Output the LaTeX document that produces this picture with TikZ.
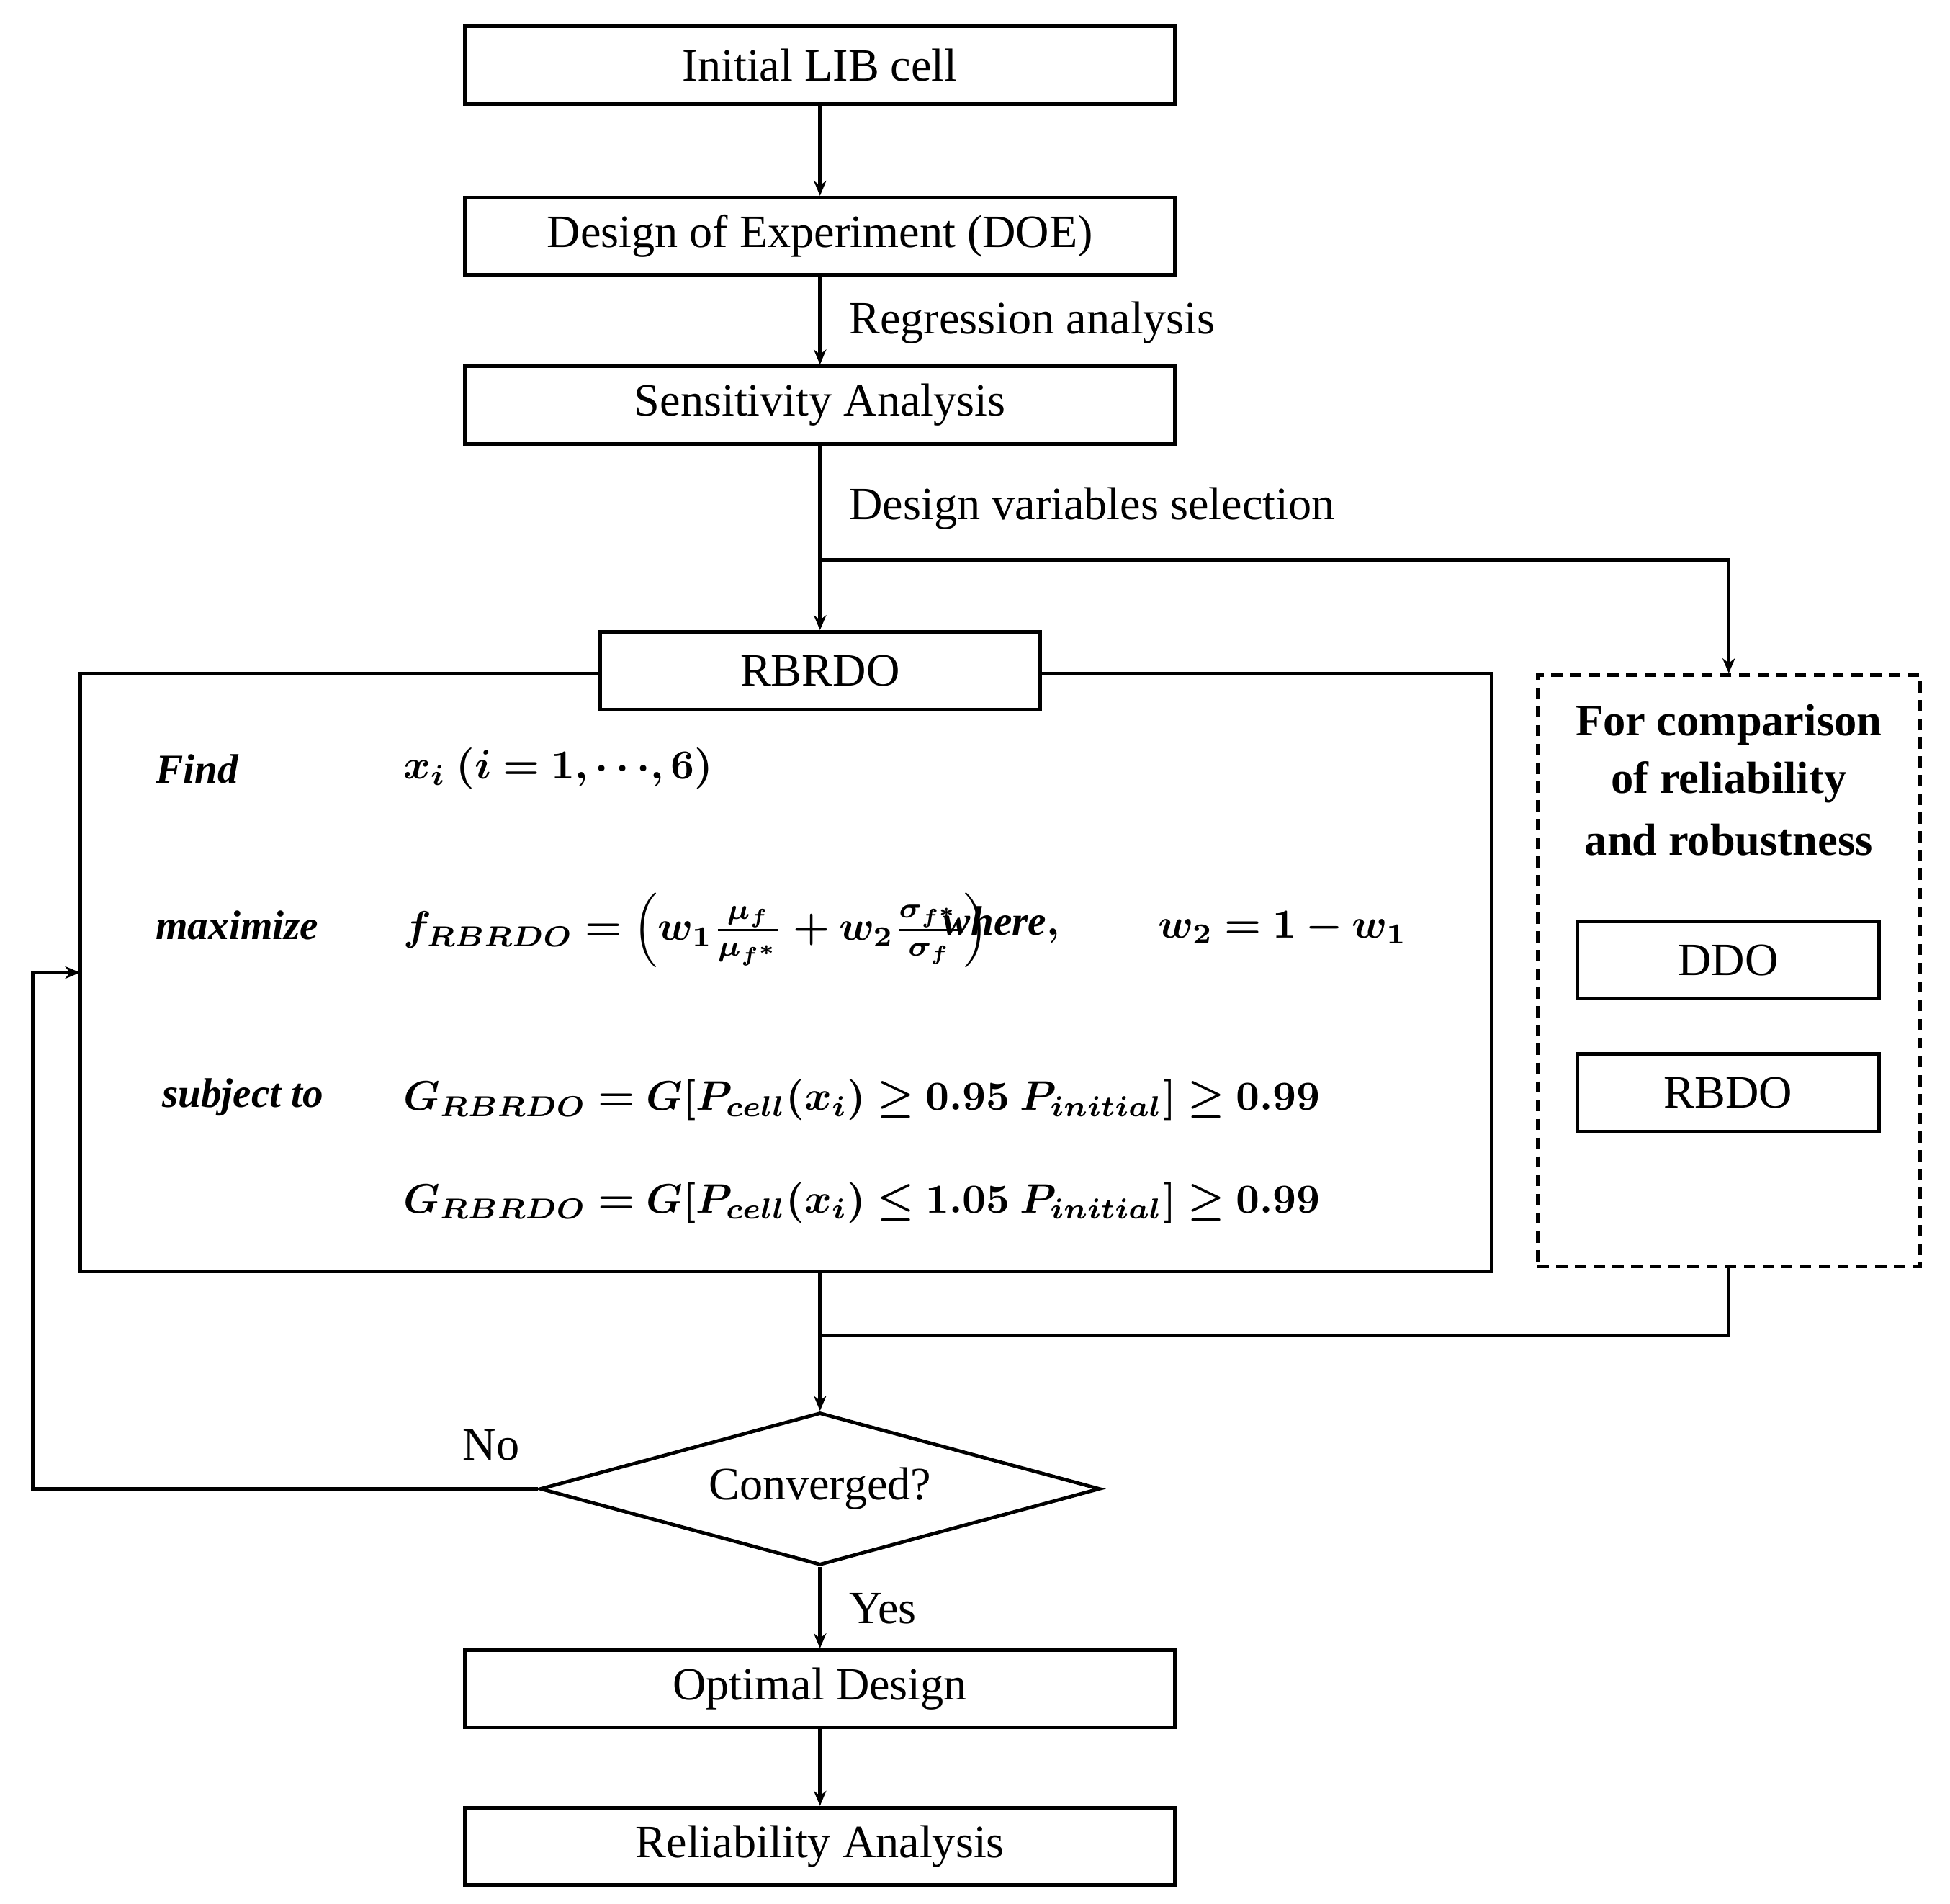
\documentclass[tikz,border=0pt]{standalone}
\usepackage{amsmath,bm}
\usepackage{fontspec}
\setmainfont{Liberation Serif}
\usetikzlibrary{arrows.meta,shapes.geometric}
\begin{document}
\begin{tikzpicture}[x=1pt,y=-1pt,
  line width=2.8pt,
  >={Stealth[length=12pt,width=10pt]},
  box/.style={draw,minimum height=62pt,inner sep=0pt,font=\fontsize{37}{44}\selectfont},
  lbl/.style={anchor=west,inner sep=0pt,font=\fontsize{37}{44}\selectfont},
  mth/.style={anchor=west,inner sep=0pt,font=\normalsize,scale=3.3},
  bt/.style={inner sep=0pt,font=\fontsize{36}{42}\selectfont\bfseries}]
\useasboundingbox (0,0) rectangle (1560,1523);
\node[box,minimum width=568pt] (init) at (656,52) {Initial LIB cell};
\node[box,minimum width=568pt] (doe) at (656,189) {Design of Experiment (DOE)};
\node[box,minimum width=568pt] (sens) at (656,324) {Sensitivity Analysis};
\draw[->] (init) -- (doe);
\draw[->] (doe) -- (sens);
\node[lbl] (reg) at (678,258) {Regression analysis};
\node[lbl] (dvs) at (678,407) {Design variables selection};
% big box
\draw (480,539) -- (64,539) -- (64,1017) -- (1193,1017) -- (1193,539) -- (832,539);
\node[box,minimum width=352pt,fill=white] (rb) at (656,536.5) {RBRDO};
\coordinate (split) at (656,448);
\draw[->] (sens) -- (rb);
% dashed box
\node[draw,dash pattern=on 9pt off 6pt,minimum width=306pt,minimum height=473pt,inner sep=0pt] (cmp) at (1383,776.5) {};
\draw[->] (split) -- (1383,448) -- (cmp.north);
\node[bt] (t1) at (1383,580) {For comparison};
\node[bt] (t2) at (1383,626) {of reliability};
\node[bt] (t3) at (1383,672) {and robustness};
\node[box,minimum width=241pt] (ddo) at (1382.5,768) {DDO};
\node[box,minimum width=241pt] (rbdo) at (1382.5,874) {RBDO};
% math
\node[mth] (m1) at (120,615) {$\bm{\mathit{Find}}$};
\node[mth] (m1b) at (318,615) {$\bm{x_i\ (i=1,\cdots,6)}$};
\node[mth] (m2) at (120,740) {$\bm{\mathit{maximize}}$};
\node[mth] (m2b) at (318,744) {$\bm{f_{RBRDO}=\left(w_1\frac{\mu_f}{\mu_{f^*}}+w_2\frac{\sigma_{f^*}}{\sigma_f}\right)}$};
\node[mth] (m2c) at (750,740) {$\bm{\mathit{where},}$};
\node[mth] (m2d) at (922,742) {$\bm{w_2=1-w_1}$};
\node[mth] (m3) at (125,878) {$\bm{\mathit{subject\ to}}$};
\node[mth] (m3b) at (318,880) {$\bm{G_{RBRDO}=G[P_{cell}(x_i)\geq 0.95\ P_{initial}]\geq 0.99}$};
\node[mth] (m4b) at (318,962) {$\bm{G_{RBRDO}=G[P_{cell}(x_i)\leq 1.05\ P_{initial}]\geq 0.99}$};
% diamond
\node[draw,diamond,aspect=3.67,minimum width=448pt,minimum height=122pt,inner sep=0pt] (conv) at (656,1191) {};
\node[inner sep=0pt,font=\fontsize{37}{44}\selectfont] (convt) at (656,1191) {Converged?};
\coordinate (join) at (656,1068);
\draw[->] (656,1017) -- (conv.north);
\draw (cmp.south) -- (1383,1068) -- (join);
\coordinate (lb) at (64,778);
\draw[->] (conv.west) -- (26,1191) -- (26,778) -- (lb);
\node[inner sep=0pt,font=\fontsize{37}{44}\selectfont] (no) at (393,1156) {No};
\node[box,minimum width=568pt] (opt) at (656,1351) {Optimal Design};
\node[box,minimum width=568pt] (rel) at (656,1477) {Reliability Analysis};
\draw[->] (conv.south) -- (opt);
\node[lbl] (yes) at (678,1287) {Yes};
\draw[->] (opt) -- (rel);
\end{tikzpicture}
\end{document}
